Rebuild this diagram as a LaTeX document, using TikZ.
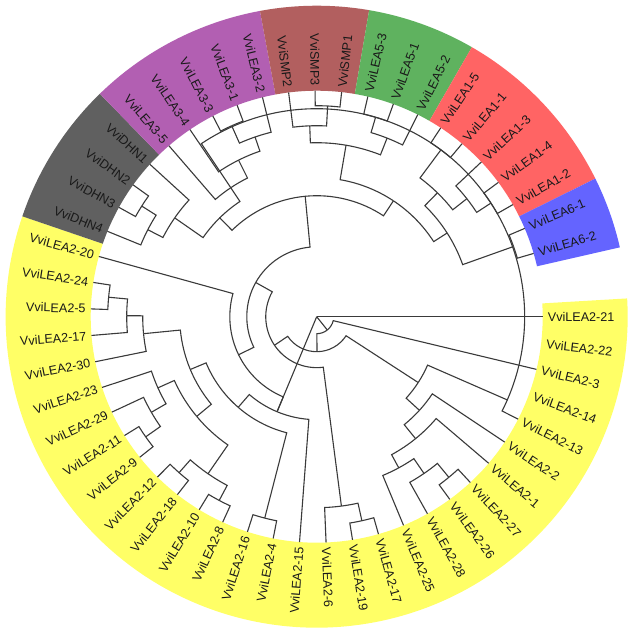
\documentclass[tikz,border=0pt]{standalone}
\usepackage{fontspec}
\setmainfont{Liberation Sans}
\usetikzlibrary{calc}

\definecolor{lea2}{HTML}{FFFF66}
\definecolor{dhn}{HTML}{606060}
\definecolor{lea3}{HTML}{B25FB2}
\definecolor{smp}{HTML}{B25F5F}
\definecolor{lea5}{HTML}{5FB25F}
\definecolor{lea1}{HTML}{FF6464}
\definecolor{lea6}{HTML}{6464FF}
\definecolor{branch}{HTML}{3A3A3A}

\newcommand{\lstep}{6.74} % angle between two leaves
\newcommand{\rin}{226}
\newcommand{\rout}{311}
% coloured part of the label ring
\newcommand{\ringpart}[3]{\fill[#1] ({#2}:\rin) arc[start angle={#2}, end angle={#3}, radius=\rin]
  -- ({#3}:\rout) arc[start angle={#3}, end angle={#2}, radius=\rout] -- cycle;}

\tikzset{
  elbow/.style={to path={let \p1=(\tikztostart), \p2=(\tikztotarget),
      \n1={atan2(\y1,\x1)}, \n2={veclen(\x2,\y2)}, \n3={atan2(\y2,\x2)},
      \n4={\n3-360*round((\n3-\n1)/360)} in
      -- (\n1:\n2) arc[start angle=\n1, end angle=\n4, radius=\n2]}},
  branchline/.style={draw=branch, line width=1.1pt},
  leaflabel/.style={inner sep=0pt, text=black!90, font=\fontsize{12.6}{14}\selectfont},
}

\begin{document}
\begin{tikzpicture}[x=1pt, y=1pt]
    \fill[white] (-316.7,-316.3) rectangle (316.3,316.7);
    \useasboundingbox (-316.7,-316.3) rectangle (316.3,316.7);

    % Coloured groups
    \ringpart{lea2}{0.5*\lstep}{-29.5*\lstep}
    \ringpart{dhn}{-29.5*\lstep}{-33.5*\lstep}
    \ringpart{lea3}{-33.5*\lstep}{-38.5*\lstep}
    \ringpart{smp}{-38.5*\lstep}{-41.5*\lstep}
    \ringpart{lea5}{-41.5*\lstep}{-44.5*\lstep}
    \ringpart{lea1}{-44.5*\lstep}{-49.5*\lstep}
    \ringpart{lea6}{-49.5*\lstep}{-51.5*\lstep}

    % Leaves, clockwise from VviLEA2-21
    \foreach \name [count=\i from 0] in {VviLEA2-21,VviLEA2-22,VviLEA2-3,VviLEA2-14,VviLEA2-13,
        VviLEA2-2,VviLEA2-1,VviLEA2-27,VviLEA2-26,VviLEA2-28,VviLEA2-25,VviLEA2-17,VviLEA2-19,
        VviLEA2-6,VviLEA2-15,VviLEA2-4,VviLEA2-16,VviLEA2-8,VviLEA2-10,VviLEA2-18,VviLEA2-12,
        VviLEA2-9,VviLEA2-11,VviLEA2-29,VviLEA2-23,VviLEA2-30,VviLEA2-17,VviLEA2-5,VviLEA2-24,
        VviLEA2-20,VviDHN4,VviDHN3,VviDHN2,VviDHN1,VviLEA3-5,VviLEA3-4,VviLEA3-3,VviLEA3-1,
        VviLEA3-2,VviSMP2,VviSMP3,VviSMP1,VviLEA5-3,VviLEA5-1,VviLEA5-2,VviLEA1-5,VviLEA1-1,
        VviLEA1-3,VviLEA1-4,VviLEA1-2,VviLEA6-1,VviLEA6-2} {
      \pgfmathsetmacro\ang{-\i*\lstep}
      \pgfmathsetmacro\c{cos(\ang)}
      \coordinate (l\i) at (\ang:226);
      \ifdim\c pt<0pt
        \pgfmathsetmacro\rot{\ang+180}
        \node[leaflabel, anchor=east, rotate=\rot] (t\i) at (\ang:231) {\name};
      \else
        \node[leaflabel, anchor=west, rotate=\ang] (t\i) at (\ang:231) {\name};
      \fi
    }

    % Inner nodes (angle, radius)
    \coordinate (root) at (0,0);
    \coordinate (x)   at ({-7.635498046875*\lstep}:17);
    \coordinate (y)   at ({-13.27099609375*\lstep}:35);
    \coordinate (z)   at ({-21.6513671875*\lstep}:51);
    \coordinate (k)   at ({-31.052734375*\lstep}:70);
    % lower right
    \coordinate (p)   at ({-4.890625*\lstep}:121);
    \coordinate (n)   at ({-3.5*\lstep}:208);
    \coordinate (q)   at ({-6.28125*\lstep}:139);
    \coordinate (r)   at ({-7.5625*\lstep}:157);
    \coordinate (s)   at ({-9.125*\lstep}:172);
    \coordinate (tt)  at ({-8.25*\lstep}:190);
    \coordinate (u)   at ({-7.5*\lstep}:208);
    \coordinate (v)   at ({-12.25*\lstep}:191);
    \coordinate (w)   at ({-11.5*\lstep}:209);
    % lower left
    \coordinate (ll)  at ({-22.85546875*\lstep}:87);
    \coordinate (l1)  at ({-16.7109375*\lstep}:103);
    \coordinate (l1b) at ({-19.421875*\lstep}:120);
    \coordinate (pa)  at ({-15.5*\lstep}:208);
    \coordinate (j2)  at ({-23.34375*\lstep}:137);
    \coordinate (h0)  at ({-20.8125*\lstep}:156);
    \coordinate (h3)  at ({-18.5*\lstep}:191);
    \coordinate (pb)  at ({-17.5*\lstep}:208);
    \coordinate (pc)  at ({-19.5*\lstep}:208);
    \coordinate (h1)  at ({-23.125*\lstep}:174);
    \coordinate (h2)  at ({-22.25*\lstep}:191);
    \coordinate (pd)  at ({-21.5*\lstep}:209);
    \coordinate (j1)  at ({-25.875*\lstep}:174);
    \coordinate (j0)  at ({-26.75*\lstep}:190);
    \coordinate (pe)  at ({-27.5*\lstep}:209);
    % upper half
    \coordinate (m)   at ({-39.25*\lstep}:121);
    \coordinate (ma)  at ({-33.46875*\lstep}:139);
    \coordinate (d)   at ({-31.875*\lstep}:173);
    \coordinate (d1)  at ({-30.75*\lstep}:190);
    \coordinate (d23) at ({-31.5*\lstep}:207);
    \coordinate (l3)  at ({-35.0625*\lstep}:155);
    \coordinate (c3)  at ({-36.125*\lstep}:175);
    \coordinate (c2)  at ({-37.25*\lstep}:190);
    \coordinate (c1)  at ({-36.5*\lstep}:209);
    \coordinate (mb)  at ({-45.03125*\lstep}:139);
    \coordinate (n1)  at ({-41.5*\lstep}:174);
    \coordinate (s2)  at ({-39.75*\lstep}:191);
    \coordinate (s31) at ({-40.5*\lstep}:211);
    \coordinate (e5)  at ({-43.25*\lstep}:192);
    \coordinate (e51) at ({-42.5*\lstep}:208);
    \coordinate (n4)  at ({-48.5625*\lstep}:155);
    \coordinate (b1)  at ({-46.625*\lstep}:173);
    \coordinate (a15) at ({-45.5*\lstep}:208);
    \coordinate (b2)  at ({-47.75*\lstep}:191);
    \coordinate (b3)  at ({-48.5*\lstep}:208);
    \coordinate (g6)  at ({-50.5*\lstep}:209);

    % Branches from the root
    \draw[branchline] (l0) -- (root);
    \draw[branchline] (l1) -- (root);
    \draw[branchline] (x) -- (root);

    % Branches: child/parent
    \foreach \ch/\pa in {l2/x, y/x, p/y, z/y,
        n/p, q/p, l3/n, l4/n, l5/q, r/q, l6/r, s/r, tt/s, l10/s, u/tt, l9/tt, l7/u, l8/u,
        v/z, k/z, w/v, l13/v, l11/w, l12/w,
        ll/k, m/k,
        l1/ll, l29/ll, l14/l1, l1b/l1, pa/l1b, j2/l1b, l15/pa, l16/pa,
        h0/j2, j1/j2, h3/h0, h1/h0, pb/h3, pc/h3, l17/pb, l18/pb, l19/pc, l20/pc,
        h2/h1, l24/h1, pd/h2, l23/h2, l21/pd, l22/pd,
        l25/j1, j0/j1, l26/j0, pe/j0, l27/pe, l28/pe,
        ma/m, mb/m, d/ma, l3/ma, d1/d, l33/d, l30/d1, d23/d1, l31/d23, l32/d23,
        l34/l3, c3/l3, l35/c3, c2/c3, c1/c2, l38/c2, l36/c1, l37/c1,
        n1/mb, n4/mb, s2/n1, e5/n1, l39/s2, s31/s2, l40/s31, l41/s31,
        e51/e5, l44/e5, l42/e51, l43/e51,
        b1/n4, g6/n4, a15/b1, b2/b1, l45/a15, l46/a15, l47/b2, b3/b2, l48/b3, l49/b3,
        l50/g6, l51/g6}
      \draw[branchline] (\ch) to[elbow] (\pa);
\end{tikzpicture}
\end{document}
